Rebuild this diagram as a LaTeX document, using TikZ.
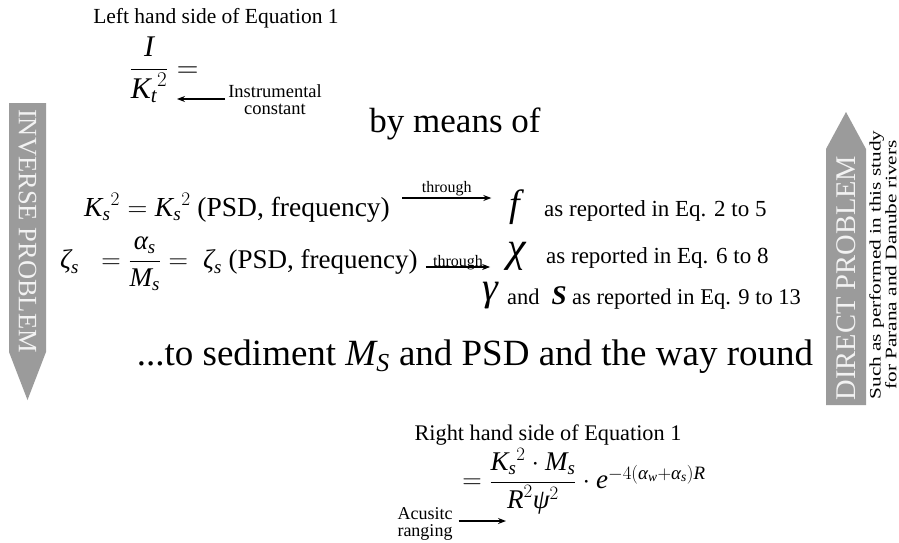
\RequirePackage{fix-cm}
\documentclass[tikz,border=0pt]{standalone}
\usepackage{amsmath}
\usepackage{fontspec}
\setmainfont{Liberation Serif}
\usetikzlibrary{arrows.meta}
\definecolor{arrowgray}{RGB}{155,155,155}
\definecolor{arrowtext}{RGB}{242,242,242}
\newcommand\iv[1]{\textit{#1}}
\newcommand\fs[1]{\fontsize{#1}{#1}\selectfont}
\tikzset{
  lbl/.style={inner sep=1pt, text=black},
  arr/.style={-{Stealth[length=8pt,width=6pt]}, line width=1.3pt},
  bigarrow/.style={fill=arrowgray, draw=none},
  bigtext/.style={text=arrowtext, inner sep=0pt, font=\fs{26.5}},
}
\begin{document}
\begin{tikzpicture}[x=1pt,y=-1pt]
\useasboundingbox (0,0) rectangle (899,543);
% gray arrows
\fill[bigarrow] (9,103) -- (46,103) -- (46,352) -- (27.5,400) -- (9,352) -- cycle;
\node[bigtext, rotate=-90] (inv) at (27.5,231) {INVERSE PROBLEM};
\fill[bigarrow] (846,112) -- (866,149) -- (866,405) -- (826,405) -- (826,149) -- cycle;
\node[bigtext, rotate=90, font=\fs{28.5}] (dir) at (846,278) {DIRECT PROBLEM};
\node[lbl, rotate=90, align=center, font=\fontsize{16}{14.5}\selectfont] (side) at (883,265)
  {\scalebox{1.33}[1]{Such as performed in this study}\\\scalebox{1.33}[1]{for Parana and Danube rivers}};
% left hand side
\node[lbl, font=\fs{21.5}] (lhstitle) at (216,18) {Left hand side of Equation 1};
\node[lbl, font=\fs{30}] (lhseq) at (164,70) {$\dfrac{\iv{I}}{{\iv{K}_{\iv{t}}}^{2}}=$};
\node[lbl, align=center, font=\fontsize{18.5}{17}\selectfont] (instr) at (275,100) {Instrumental\\constant};
\coordinate (ktpt) at (177,99);
\draw[arr] ([xshift=-2pt]instr.west |- ktpt) -- (ktpt);
\node[lbl, font=\fs{35}] (means) at (455,124) {by means of};
% line 1
\node[lbl, anchor=west, font=\fs{27.5}] (ks) at (83,208) {${\iv{K}_{\iv{s}}}^{2}={\iv{K}_{\iv{s}}}^{2}$ (PSD, frequency)};
\node[lbl, font=\fs{38}] (fsym) at (517,207) {\iv{f}};
\node[lbl, anchor=west, font=\fs{23}] (rep1) at (543,211) {as reported in Eq. 2 to 5};
\path (ks.east) ++(11,-10) coordinate (t1a);
\path (fsym.west) ++(-17,0) coordinate (t1b);
\draw[arr] (t1a) -- node[lbl, above, font=\fs{16}] (thr1) {through} (t1a -| t1b);
% line 2
\node[lbl, anchor=west, font=\fs{27}] (zeta) at (59,264) {$\iv{ζ}_{\iv{s}}\;\;=\dfrac{\iv{α}_{\iv{s}}}{\iv{M}_{\iv{s}}}=\;\iv{ζ}_{\iv{s}}$ (PSD, frequency)};
\node[lbl, font=\fs{42}] (chi) at (517,256) {\iv{χ}};
\node[lbl, anchor=west, font=\fs{23}] (rep2) at (545,258) {as reported in Eq. 6 to 8};
\path (zeta.east) ++(7,3) coordinate (t2a);
\path (chi.west) ++(-16,0) coordinate (t2b);
\draw[arr] (t2a) -- node[lbl, anchor=base, yshift=1pt, font=\fs{16}] (thr2) {through} (t2a -| t2b);
% line 3
\node[lbl, font=\fs{40}] (gam) at (491,296) {\iv{γ}};
\node[lbl, anchor=west, font=\fs{22.5}] (rep3) at (506,298) {and \;{\fs{27}\textbf{\textit{S}}} as reported in Eq. 9 to 13};
% big line
\node[lbl, font=\fs{37}] (sed) at (475,357) {...to sediment $\iv{M}_{\iv{S}}$ and PSD and the way round};
% right hand side
\node[lbl, font=\fs{22.3}] (rhstitle) at (548,435) {Right hand side of Equation 1};
\node[lbl, font=\fs{27}] (rhseq) at (584,481) {$=\dfrac{{\iv{K}_{\iv{s}}}^{2}\cdot \iv{M}_{\iv{s}}}{\iv{R}^{2}\iv{ψ}^{2}}\cdot \iv{e}^{-4(\iv{α}_{\iv{w}}+\iv{α}_{\iv{s}})\iv{R}}$};
\node[lbl, align=center, font=\fontsize{18}{17}\selectfont] (acu) at (425,524) {Acusitc\\ranging};
\coordinate (rpt) at (506,521);
\draw[arr] ([xshift=5pt]acu.east |- rpt) -- (rpt);
\end{tikzpicture}
\end{document}
